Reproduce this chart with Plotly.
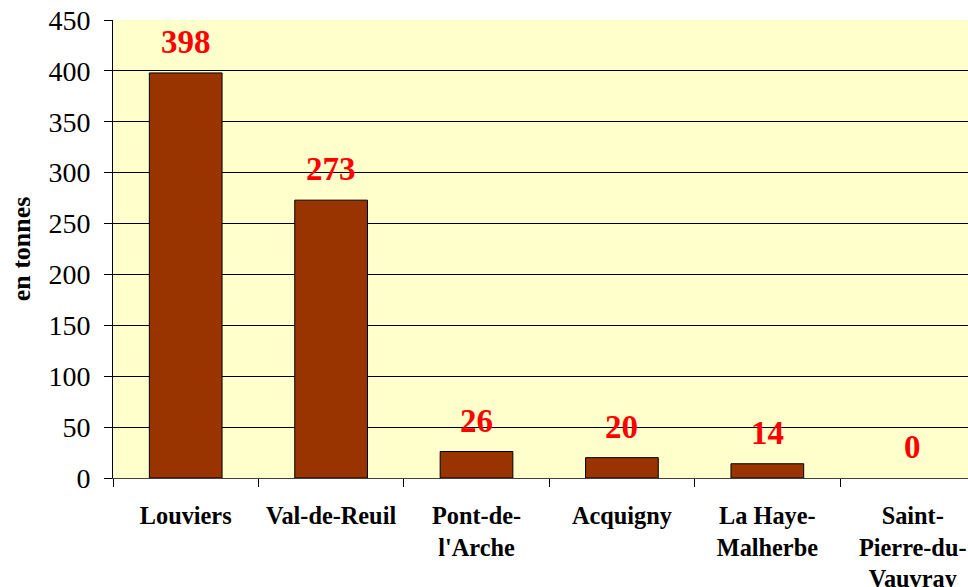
import plotly.graph_objects as go

categories = ["Louviers", "Val-de-Reuil", "Pont-de-<br>l'Arche", "Acquigny", "La Haye-<br>Malherbe", "Saint-<br>Pierre-du-<br>Vauvray"]
values = [398, 273, 26, 20, 14, 0]
y_ticks = [0, 50, 100, 150, 200, 250, 300, 350, 400, 450]

fig = go.Figure()
fig.add_trace(go.Bar(
    x=list(range(len(categories))), y=values, width=0.5,
    marker=dict(color="#993300",
                line=dict(color="black", width=[0 if v == 0 else 1 for v in values])),
    hoverinfo="skip",
))
for i, v in enumerate(values):
    fig.add_annotation(x=i, y=v, text=f"<b>{v}</b>", showarrow=False, yshift=31,
                       font=dict(family="Liberation Serif", size=33, color="#FF0000"))

fig.update_layout(
    width=968, height=587,
    margin=dict(l=113, r=0, t=20, b=109),
    paper_bgcolor="white", plot_bgcolor="#FFFFCC",
    showlegend=False,
    font=dict(family="Liberation Serif", color="black"),
)
fig.update_xaxes(
    range=[-0.5, 5.38], tickmode="array", tickvals=list(range(len(categories))),
    ticktext=[f"<b>{c}</b>" for c in categories], tickfont=dict(size=24.3, family="Liberation Serif"),
    ticklabelstandoff=16, ticklabeloverflow="allow", automargin=False,
    showline=True, linecolor="#404040", linewidth=1, ticks="", showgrid=False, zeroline=False,
)
# category separator ticks
fig.update_layout(xaxis2=dict(overlaying="x", range=[-0.5, 5.38], tickmode="array",
                              tickvals=[-0.5 + k for k in range(6)], ticks="outside", ticklen=8,
                              tickcolor="black", showticklabels=False, showgrid=False,
                              zeroline=False, anchor="y", side="bottom", automargin=False))
fig.add_trace(go.Scatter(x=[0], y=[0], xaxis="x2", mode="markers", marker=dict(opacity=0), hoverinfo="skip"))
fig.update_yaxes(
    range=[0, 450], tickmode="array", tickvals=y_ticks,
    tickfont=dict(size=28, family="Liberation Serif"),
    ticklabelstandoff=8, automargin=False,
    showgrid=True, gridcolor="black", gridwidth=1,
    showline=True, linecolor="black", linewidth=1,
    ticks="outside", ticklen=8, tickcolor="black",
    zeroline=False,
    title=dict(text="<b>en tonnes</b>", font=dict(size=26, family="Liberation Serif"), standoff=10),
)
fig.write_html("out.html", config={"displayModeBar": False},
               post_script="document.body.style.margin='0';")
